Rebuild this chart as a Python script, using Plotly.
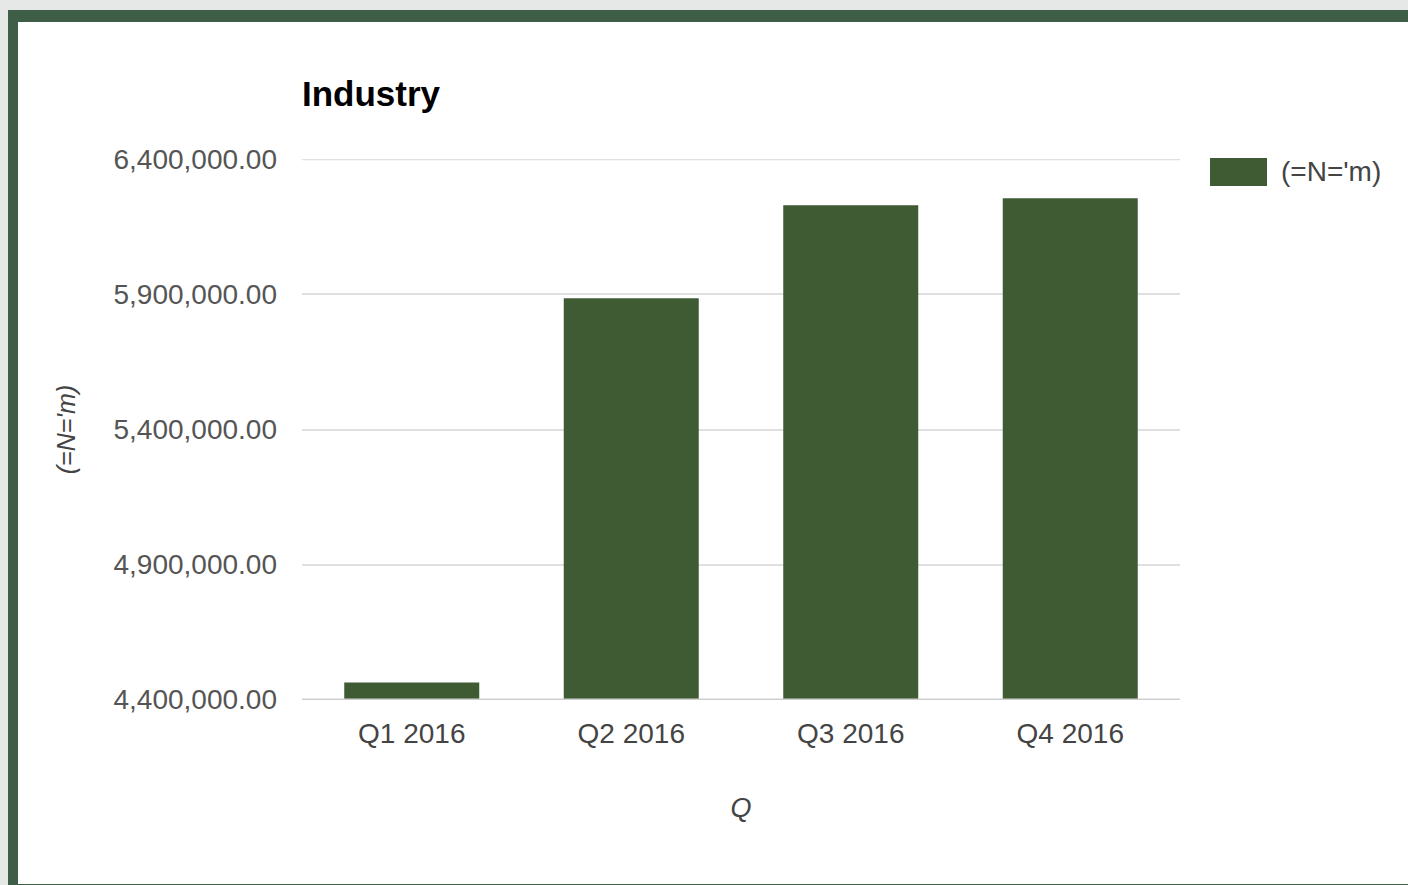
import plotly.graph_objects as go

# ---- data ----
categories = ["Q1 2016", "Q2 2016", "Q3 2016", "Q4 2016"]
values = [4463000, 5886000, 6230000, 6256000]
series_name = "(=N='m)"
chart_title = "Industry"
x_title = "Q"
y_title = "(=N='m)"
y_ticks = [4400000, 4900000, 5400000, 5900000, 6400000]

# ---- layout constants ----
W, H = 1408, 885
L, R, T, B = 302, 228, 159, 185
PW, PH = W - L - R, H - T - B
BAR = "#3f5b34"
FRAME = "#3f5e48"
GRID = "#e0e0e0"
FONT = "Liberation Sans, Arial, sans-serif"


def px_x(p):
    return (p - L) / PW


def px_y(p):
    return (H - B - p) / PH


fig = go.Figure()
fig.add_trace(go.Bar(x=categories, y=values, name=series_name,
                     marker=dict(color=BAR, line=dict(width=0)),
                     showlegend=False))

shapes = [
    # green frame
    dict(type="rect", xref="paper", yref="paper", layer="below",
         x0=px_x(8), x1=px_x(1430), y0=px_y(900), y1=px_y(10),
         fillcolor=FRAME, line=dict(width=0)),
    # white panel
    dict(type="rect", xref="paper", yref="paper", layer="below",
         x0=px_x(18), x1=px_x(1430), y0=px_y(884), y1=px_y(22),
         fillcolor="white", line=dict(width=0)),
    # top gridline (at the range edge)
    dict(type="line", xref="paper", yref="y", layer="below",
         x0=0, x1=1, y0=y_ticks[-1], y1=y_ticks[-1],
         line=dict(color=GRID, width=1.5)),
    # baseline
    dict(type="line", xref="paper", yref="y", layer="above",
         x0=0, x1=1, y0=y_ticks[0], y1=y_ticks[0],
         line=dict(color="#cfcfcf", width=2)),
    # legend swatch
    dict(type="rect", xref="paper", yref="paper",
         x0=px_x(1210), x1=px_x(1267), y0=px_y(186), y1=px_y(158),
         fillcolor=BAR, line=dict(width=0)),
]

annotations = [
    dict(text=series_name, xref="paper", yref="paper",
         x=px_x(1279), y=px_y(172), xanchor="left", yanchor="middle",
         showarrow=False, font=dict(family=FONT, size=28, color="#444444")),
]

pad = (y_ticks[-1] - y_ticks[0]) * 0.0008

fig.update_layout(
    width=W, height=H,
    margin=dict(l=L, r=R, t=T, b=B, pad=0),
    paper_bgcolor="#e6e8e8",
    plot_bgcolor="rgba(0,0,0,0)",
    bargap=0.385,
    shapes=shapes,
    annotations=annotations,
    showlegend=False,
    title=dict(text=chart_title, x=px_x(302), xref="paper", xanchor="left",
               y=1 - 94 / H, yref="container", yanchor="middle",
               font=dict(family=FONT, size=35, color="#000000", weight="bold")),
    xaxis=dict(
        showgrid=False, zeroline=False, showline=False,
        ticks="", ticklabelstandoff=14,
        tickfont=dict(family=FONT, size=28, color="#444444"),
        title=dict(text=x_title, standoff=50,
                   font=dict(family=FONT, size=27, color="#444444", style="italic")),
    ),
    yaxis=dict(
        range=[y_ticks[0] - pad, y_ticks[-1] + pad],
        tickvals=y_ticks, tickformat=",.2f",
        showgrid=True, gridcolor=GRID, gridwidth=1.5,
        zeroline=False, showline=False,
        ticks="", ticklabelstandoff=24,
        tickfont=dict(family=FONT, size=28, color="#555555"),
        title=dict(text=y_title, standoff=30,
                   font=dict(family=FONT, size=25, color="#444444", style="italic")),
    ),
)

fig.write_html(
    "out.html",
    config={"displayModeBar": False},
    post_script="document.body.style.margin='0';document.body.style.background='#e6e8e8';",
)
